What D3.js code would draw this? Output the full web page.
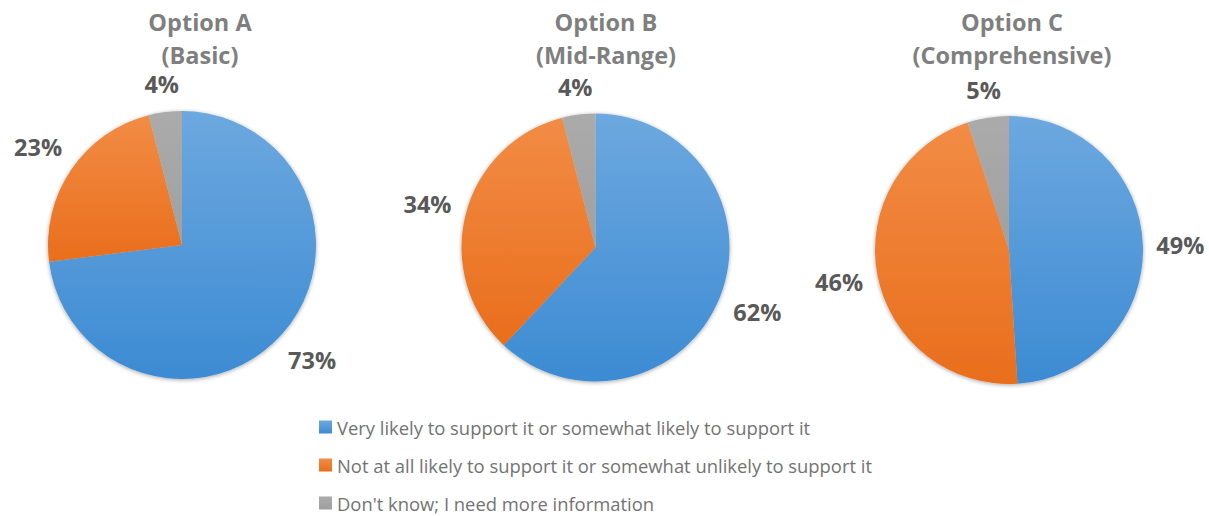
<!DOCTYPE html>
<html>
<head>
<meta charset="utf-8">
<script src="https://cdn.jsdelivr.net/npm/d3@7"></script>
<style>
  html, body { margin: 0; padding: 0; background: #ffffff; }
  svg { display: block; }
</style>
</head>
<body>
<svg id="chart" width="1209" height="516"></svg>
<script>
// Survey results: support for each option
const options = ["Option A", "Option B", "Option C"];
const subtitles = ["(Basic)", "(Mid-Range)", "(Comprehensive)"];
const categories = [
  "Very likely to support it or somewhat likely to support it",
  "Not at all likely to support it or somewhat unlikely to support it",
  "Don't know; I need more information"
];
const supportValues = [73, 62, 49];
const opposeValues = [23, 34, 46];
const unsureValues = [4, 4, 5];

const colorsTop = ["#6da8df", "#f28c45", "#ababab"];
const colorsBottom = ["#3c8bd3", "#e96e1c", "#a0a0a0"];

const W = 1209, H = 516;
const svg = d3.select("#chart");
const defs = svg.append("defs");

// vertical gradient per category
categories.forEach((c, i) => {
  const g = defs.append("linearGradient")
    .attr("id", "grad" + i)
    .attr("x1", 0).attr("y1", 0).attr("x2", 0).attr("y2", 1);
  g.append("stop").attr("offset", "0%").attr("stop-color", colorsTop[i]);
  g.append("stop").attr("offset", "100%").attr("stop-color", colorsBottom[i]);
});

// soft shadow around each pie
const f = defs.append("filter").attr("id", "soft")
  .attr("x", "-10%").attr("y", "-10%").attr("width", "120%").attr("height", "120%");
f.append("feGaussianBlur").attr("in", "SourceAlpha").attr("stdDeviation", 2).attr("result", "b");
f.append("feOffset").attr("in", "b").attr("dx", 0).attr("dy", 1).attr("result", "o");
f.append("feComponentTransfer").attr("in", "o").attr("result", "s")
  .append("feFuncA").attr("type", "linear").attr("slope", 0.35);
const m = f.append("feMerge");
m.append("feMergeNode").attr("in", "s");
m.append("feMergeNode").attr("in", "SourceGraphic");

const centerX = d3.scalePoint().domain(options).range([182, 1009]);
const centerY = d3.scalePoint().domain(options).range([245, 250]);
const titleX = d3.scalePoint().domain(options).range([200, 1012]);
const radius = 134;
const labelGap = 13;

const pie = d3.pie().sort(null).value(d => d.value);
const arc = d3.arc().innerRadius(0).outerRadius(radius);

options.forEach((opt, k) => {
  const data = [
    { cat: 0, value: supportValues[k] },
    { cat: 1, value: opposeValues[k] },
    { cat: 2, value: unsureValues[k] }
  ];
  const cx = centerX(opt), cy = centerY(opt);
  const g = svg.append("g").attr("transform", `translate(${cx},${cy})`);

  g.append("g").attr("filter", "url(#soft)")
    .selectAll("path")
    .data(pie(data))
    .join("path")
    .attr("d", arc)
    .attr("fill", d => `url(#grad${d.data.cat})`);

  // title
  const tx = titleX(opt);
  const t = svg.append("text")
    .attr("x", tx).attr("y", 31)
    .attr("text-anchor", "middle")
    .attr("font-family", "Open Sans, sans-serif")
    .attr("font-weight", 700)
    .attr("font-size", 23.5)
    .attr("fill", "#7f7f7f");
  t.append("tspan").attr("x", tx).attr("dy", 0).text(opt);
  t.append("tspan").attr("x", tx).attr("dy", 33).text(subtitles[k]);

  // value labels placed just outside each slice
  g.selectAll("text.val")
    .data(pie(data))
    .join("text")
    .attr("class", "val")
    .attr("text-anchor", "middle")
    .attr("dominant-baseline", "central")
    .attr("font-family", "Open Sans, sans-serif")
    .attr("font-weight", 700)
    .attr("font-size", 23.5)
    .attr("fill", "#595959")
    .text(d => d.data.value + "%")
    .each(function(d) {
      const bb = this.getBBox();
      const a = (d.startAngle + d.endAngle) / 2;
      const ux = Math.sin(a), uy = -Math.cos(a);
      const ext = Math.abs(ux) * bb.width / 2 + Math.abs(uy) * bb.height * 0.4;
      const r = radius + labelGap + ext;
      d3.select(this).attr("x", ux * r).attr("y", uy * r);
    });
});

// legend
const legendY = d3.scalePoint().domain(categories).range([427, 503]);
const legend = svg.append("g");
categories.forEach((c, i) => {
  const y = legendY(c);
  legend.append("rect")
    .attr("x", 319).attr("y", y - 6.5)
    .attr("width", 13).attr("height", 13)
    .attr("fill", `url(#grad${i})`);
  legend.append("text")
    .attr("x", 337).attr("y", y)
    .attr("dominant-baseline", "central")
    .attr("font-family", "Open Sans, sans-serif")
    .attr("font-size", 18.4)
    .attr("fill", "#737373")
    .text(c);
});
</script>
</body>
</html>
